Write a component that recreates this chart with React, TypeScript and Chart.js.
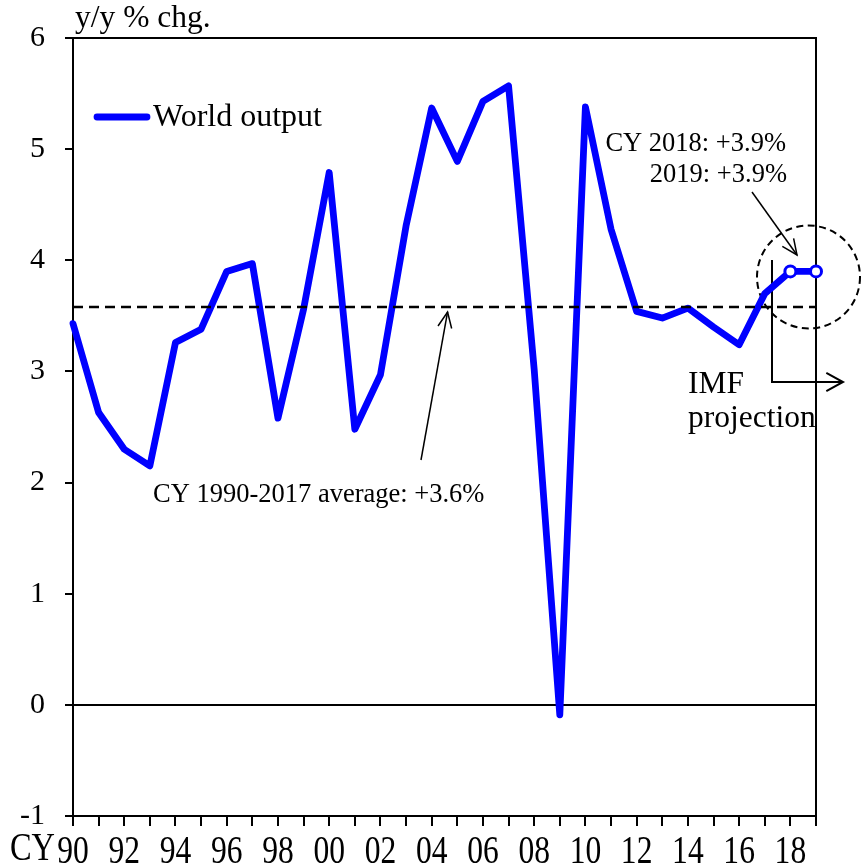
import React, { useEffect, useRef } from 'react';
import { Chart, registerables } from 'chart.js';

Chart.register(...registerables);

// ---- data ----
const years = [
  '1990', '1991', '1992', '1993', '1994', '1995', '1996', '1997', '1998', '1999',
  '2000', '2001', '2002', '2003', '2004', '2005', '2006', '2007', '2008', '2009',
  '2010', '2011', '2012', '2013', '2014', '2015', '2016', '2017', '2018', '2019',
];
const xTickLabels = [
  '90', '', '92', '', '94', '', '96', '', '98', '',
  '00', '', '02', '', '04', '', '06', '', '08', '',
  '10', '', '12', '', '14', '', '16', '', '18', '',
];
const worldOutput = [
  3.43, 2.63, 2.30, 2.15, 3.26, 3.38, 3.90, 3.97, 2.58, 3.56,
  4.79, 2.48, 2.97, 4.31, 5.37, 4.89, 5.43, 5.57, 3.02, -0.09,
  5.38, 4.28, 3.54, 3.48, 3.57, 3.40, 3.24, 3.70, 3.90, 3.90,
];
const projectedYears = ['2018', '2019'];
const averageValue = 3.58;
const averageSpan = ['1990', '2019'];
const yMin = -1;
const yMax = 6;
const yStep = 1;

const seriesLabel = 'World output';
const unitLabel = 'y/y % chg.';
const xPrefixLabel = 'CY';
const averageText = 'CY 1990-2017 average: +3.6%';
const projText1 = 'CY 2018: +3.9%';
const projText2 = '2019: +3.9%';
const imfText1 = 'IMF';
const imfText2 = 'projection';

const FONT = '"Liberation Serif", "Times New Roman", serif';
const BLUE = '#0000FF';

function arrowHead(ctx: CanvasRenderingContext2D, fx: number, fy: number, tx: number, ty: number, len: number, half: number) {
  const ang = Math.atan2(ty - fy, tx - fx);
  ctx.beginPath();
  ctx.moveTo(tx - len * Math.cos(ang - half), ty - len * Math.sin(ang - half));
  ctx.lineTo(tx, ty);
  ctx.lineTo(tx - len * Math.cos(ang + half), ty - len * Math.sin(ang + half));
  ctx.stroke();
}

function narrowText(ctx: CanvasRenderingContext2D, text: string, x: number, y: number, sx: number, align: CanvasTextAlign) {
  ctx.save();
  ctx.translate(x, y);
  ctx.scale(sx, 1);
  ctx.textAlign = align;
  ctx.fillText(text, 0, 0);
  ctx.restore();
}

const overlayPlugin = {
  id: 'overlay',
  beforeDatasetsDraw(chart: any) {
    const { ctx, chartArea: a, scales } = chart;
    const x = scales.x;
    const y = scales.y;
    ctx.save();
    // frame
    ctx.strokeStyle = '#000';
    ctx.lineWidth = 2;
    ctx.setLineDash([]);
    ctx.strokeRect(a.left, a.top, a.right - a.left, a.bottom - a.top);

    // x tick labels (tall, narrow glyphs) placed at the category scale's ticks
    ctx.fillStyle = '#000';
    ctx.font = `41px ${FONT}`;
    ctx.textBaseline = 'alphabetic';
    x.ticks.forEach((_t: any, i: number) => {
      const lbl = xTickLabels[i];
      if (lbl) narrowText(ctx, lbl, x.getPixelForTick(i), 863, 0.77, 'center');
    });
    // CY prefix
    narrowText(ctx, xPrefixLabel, 10, 860, 0.79, 'left');

    // unit label
    ctx.font = `31.5px ${FONT}`;
    ctx.textAlign = 'left';
    ctx.fillText(unitLabel, 75, 27);

    // legend
    ctx.strokeStyle = BLUE;
    ctx.lineWidth = 6.8;
    ctx.lineCap = 'round';
    ctx.beginPath();
    ctx.moveTo(97, 117);
    ctx.lineTo(147, 117);
    ctx.stroke();
    ctx.lineCap = 'butt';
    ctx.fillStyle = '#000';
    ctx.font = `32px ${FONT}`;
    ctx.fillText(seriesLabel, 153, 126);

    // average annotation
    ctx.font = `26.5px ${FONT}`;
    ctx.fillText(averageText, 153, 502);
    ctx.strokeStyle = '#000';
    ctx.lineWidth = 1.5;
    const tipX = x.getPixelForValue(14.62);
    const tipY = y.getPixelForValue(averageValue) + 5;
    ctx.beginPath();
    ctx.moveTo(421, 460);
    ctx.lineTo(tipX, tipY);
    ctx.stroke();
    arrowHead(ctx, 421, 460, tipX, tipY, 17, 0.42);

    // projection annotation text
    ctx.textAlign = 'right';
    ctx.fillText(projText1, 786, 151);
    ctx.fillText(projText2, 787, 182);
    ctx.beginPath();
    ctx.moveTo(752, 192);
    ctx.lineTo(797, 255);
    ctx.stroke();
    arrowHead(ctx, 752, 192, 797, 255, 17, 0.42);

    // dashed circle
    ctx.lineWidth = 2;
    ctx.setLineDash([7, 4.5]);
    ctx.beginPath();
    ctx.arc(808.5, 277, 51.5, 0, Math.PI * 2);
    ctx.stroke();
    ctx.setLineDash([]);

    // projection bracket arrow
    ctx.lineWidth = 2;
    ctx.beginPath();
    ctx.moveTo(772, 260);
    ctx.lineTo(772, 382);
    ctx.lineTo(843, 382);
    ctx.stroke();
    arrowHead(ctx, 772, 382, 843, 382, 19, 0.5);

    // IMF projection text
    ctx.textAlign = 'left';
    ctx.font = `31.5px ${FONT}`;
    ctx.fillText(imfText1, 688, 393);
    ctx.fillText(imfText2, 688, 427);

    ctx.restore();
  },
};

export default function App() {
  const ref = useRef<HTMLCanvasElement | null>(null);

  useEffect(() => {
    if (!ref.current) return;
    const chart = new Chart(ref.current, {
      type: 'line',
      data: {
        labels: years,
        datasets: [
          {
            label: 'average',
            data: averageSpan.map((yr) => ({ x: yr, y: averageValue })),
            borderColor: '#000',
            borderWidth: 2.5,
            borderDash: [10, 6],
            pointRadius: 0,
            fill: false,
            order: 0,
          } as any,
          {
            label: seriesLabel,
            data: worldOutput,
            borderColor: BLUE,
            borderWidth: 6.8,
            borderJoinStyle: 'round',
            borderCapStyle: 'round',
            tension: 0,
            fill: false,
            clip: false,
            pointRadius: (c: any) => (projectedYears.includes(years[c.dataIndex]) ? 5.5 : 0),
            pointHoverRadius: 0,
            pointBackgroundColor: '#fff',
            pointBorderColor: BLUE,
            pointBorderWidth: 3,
            order: 1,
          } as any,
        ],
      },
      options: {
        responsive: false,
        devicePixelRatio: 1,
        animation: false,
        events: [],
        layout: { padding: { top: 38, right: 45, left: 0, bottom: 0 } },
        plugins: {
          legend: { display: false },
          tooltip: { enabled: false },
        },
        scales: {
          x: {
            type: 'category',
            offset: false,
            afterFit: (s: any) => { s.height = 52; },
            border: { display: true, color: '#000', width: 2 },
            grid: {
              drawOnChartArea: false,
              drawTicks: true,
              tickLength: 10,
              tickColor: '#000',
              tickWidth: 2,
              lineWidth: 2,
            },
            ticks: {
              display: false,
              autoSkip: false,
              maxRotation: 0,
              minRotation: 0,
              callback: (_v: any, i: number) => xTickLabels[i],
            },
          },
          y: {
            min: yMin,
            max: yMax,
            afterFit: (s: any) => { s.width = 73; },
            border: { display: true, color: '#000', width: 2 },
            grid: {
              drawOnChartArea: true,
              drawTicks: true,
              tickLength: 8,
              tickColor: '#000',
              tickWidth: 2,
              color: (c: any) => (c.tick && c.tick.value === 0 ? '#000' : 'rgba(0,0,0,0)'),
              lineWidth: 2,
            },
            ticks: {
              stepSize: yStep,
              padding: 20,
              color: '#000',
              font: { family: FONT, size: 30 },
            },
          },
        },
      },
      plugins: [overlayPlugin],
    });
    return () => chart.destroy();
  }, []);

  return (
    <div style={{ position: 'absolute', left: 0, top: 0, width: 861, height: 868 }}>
      <canvas ref={ref} width={861} height={868} style={{ display: 'block' }} />
    </div>
  );
}
